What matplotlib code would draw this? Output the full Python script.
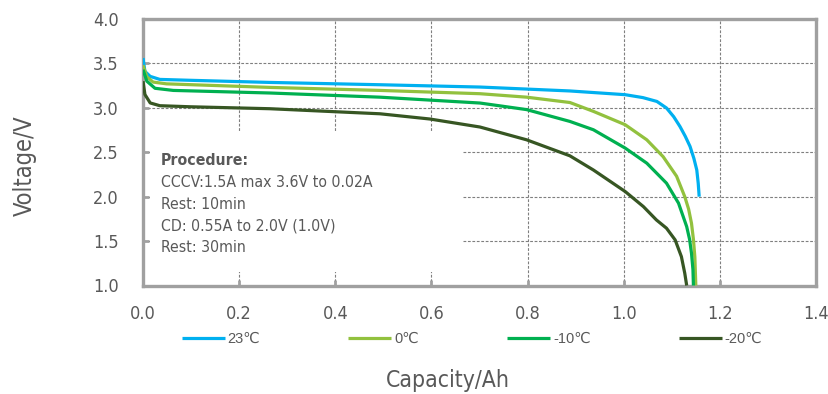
import numpy as np
import matplotlib
matplotlib.use("Agg")
import matplotlib.pyplot as plt
from matplotlib.patches import Rectangle

plt.rcParams['font.family'] = ['DejaVu Sans']
plt.rcParams['font.stretch'] = 'condensed'

# capacity (Ah) / voltage (V)
cap_23 = [0, 0.004, 0.015, 0.035, 0.098, 0.264, 0.493, 0.701, 0.888, 1.003, 1.04, 1.069,
          1.089, 1.104, 1.117, 1.128, 1.138, 1.146, 1.152, 1.155, 1.157]
v_23 = [3.56, 3.41, 3.354, 3.32, 3.31, 3.286, 3.26, 3.234, 3.19, 3.148, 3.115, 3.072,
        2.998, 2.90, 2.79, 2.68, 2.565, 2.43, 2.30, 2.15, 2.00]

cap_0 = [0, 0.008, 0.021, 0.049, 0.264, 0.493, 0.701, 0.798, 0.888, 0.937, 1.003, 1.048,
         1.082, 1.110, 1.127, 1.135, 1.141, 1.145, 1.148, 1.150]
v_0 = [3.48, 3.35, 3.29, 3.27, 3.23, 3.196, 3.159, 3.12, 3.06, 2.96, 2.81, 2.64,
       2.45, 2.23, 2.00, 1.86, 1.70, 1.52, 1.32, 1.0]

cap_m10 = [0, 0.008, 0.025, 0.063, 0.264, 0.493, 0.701, 0.798, 0.888, 0.937, 1.003, 1.048,
           1.089, 1.114, 1.131, 1.137, 1.141, 1.144, 1.145]
v_m10 = [3.43, 3.30, 3.22, 3.196, 3.167, 3.12, 3.054, 2.98, 2.847, 2.753, 2.547, 2.377,
         2.152, 1.927, 1.663, 1.52, 1.363, 1.18, 1.0]

cap_m20 = [0, 0.004, 0.015, 0.035, 0.098, 0.264, 0.493, 0.597, 0.701, 0.798, 0.888, 0.937,
           1.003, 1.041, 1.068, 1.089, 1.107, 1.120, 1.127, 1.131]
v_m20 = [3.30, 3.15, 3.055, 3.024, 3.012, 2.99, 2.933, 2.874, 2.784, 2.64, 2.46, 2.30,
         2.058, 1.888, 1.738, 1.645, 1.513, 1.325, 1.138, 1.0]

labels = ['23℃', '0℃', '-10℃', '-20℃']
colors = ['#00B0F0', '#92C13E', '#00B050', '#375623']

procedure = ['CCCV:1.5A max 3.6V to 0.02A', 'Rest: 10min',
             'CD: 0.55A to 2.0V (1.0V)', 'Rest: 30min']

W, H = 829, 394
fig = plt.figure(figsize=(W / 100, H / 100), dpi=100)
ax = fig.add_axes([143 / W, 1 - 285.5 / H, (816 - 143) / W, (285.5 - 19) / H])

series = [(cap_23, v_23), (cap_0, v_0), (cap_m10, v_m10), (cap_m20, v_m20)]
for (c, v), lab, col in zip(series, labels, colors):
    ax.plot(c, v, color=col, lw=2.3, label=lab, zorder=3,
            solid_capstyle='butt', solid_joinstyle='round')

ax.set_xlim(0, 1.4)
ax.set_ylim(1.0, 4.0)
ax.set_xticks(np.arange(0, 1.41, 0.2))
ax.set_yticks(np.arange(1.0, 4.01, 0.5))
ax.set_axisbelow(True)
ax.grid(True, color='#7f7f7f', lw=0.8, ls=(0, (2.5, 1.5)))

# white panel behind the procedure note hides the grid there
ax.add_patch(Rectangle((0.0146, 1.152), 0.664 - 0.0146, 2.73 - 1.152,
                       facecolor='white', edgecolor='none', zorder=1))

for s in ax.spines.values():
    s.set_color('#A0A0A0')
    s.set_linewidth(2.4)
ax.tick_params(direction='in', length=4, width=2, color='#A0A0A0',
               labelcolor='#595959', labelsize=13)
ax.tick_params(axis='x', pad=14)
ax.tick_params(axis='y', pad=17.5)

fig.text(25 / W, 1 - 166 / H, 'Voltage/V', rotation=90, ha='center', va='center',
         fontsize=17, color='#595959')
fig.text(448 / W, 1 - 380 / H, 'Capacity/Ah', ha='center', va='center',
         fontsize=16.5, color='#595959')

fig.text(161 / W, 1 - 165 / H, 'Procedure:', fontsize=11.3, fontweight='bold',
         color='#595959', va='baseline')
for i, line in enumerate(procedure):
    fig.text(161 / W, 1 - (187.3 + 21.7 * i) / H, line, fontsize=11.3,
             color='#595959', va='baseline')

fig.legend(loc='center', bbox_to_anchor=(472 / W, 1 - 339 / H), ncol=4, frameon=False,
           prop={'family': ['Liberation Sans', 'DejaVu Sans'], 'size': 10.5,
                 'stretch': 'normal'},
           labelcolor='#595959', handlelength=2.95, handletextpad=0.2,
           columnspacing=6.05)

fig.savefig('out.png', dpi=100)
